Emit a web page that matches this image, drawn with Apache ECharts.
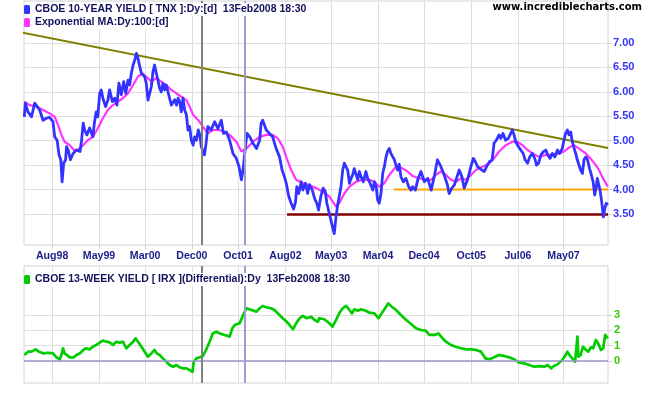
<!DOCTYPE html>
<html><head><meta charset="utf-8">
<script src="https://cdn.jsdelivr.net/npm/echarts@6/dist/echarts.min.js"></script>
<style>html,body{margin:0;padding:0;background:#fff}#c{width:651px;height:395px}</style>
</head><body><div id="c"></div>
<script>
const TNX_NAME = 'CBOE 10-YEAR YIELD [ TNX ]:Dy:[d]  13Feb2008 18:30';
const EMA_NAME = 'Exponential MA:Dy:100:[d]';
const IRX_NAME = 'CBOE 13-WEEK YIELD [ IRX ](Differential):Dy  13Feb2008 18:30';

const xRange = ['1998-02-16', '2008-02-14'];
const xTickDates = ['1998-08-11','1999-05-31','2000-03-14','2000-12-31','2001-10-16','2002-08-08','2003-05-21','2004-03-09','2004-12-21','2005-10-12','2006-07-31','2007-05-12'];
const tnxTicks = [3.5, 4.0, 4.5, 5.0, 5.5, 6.0, 6.5, 7.0];
const irxTicks = [0, 1, 2, 3];
const markerDates = ['2001-03-01', '2001-11-27'];

const tnx = [['1998-02-18',5.49],['1998-02-24',5.77],['1998-03-13',5.59],['1998-04-04',5.49],['1998-04-24',5.77],['1998-05-04',5.80],['1998-05-25',5.63],['1998-06-15',5.42],['1998-07-06',5.46],['1998-07-26',5.48],['1998-08-16',5.39],['1998-08-27',5.08],['1998-09-11',5.01],['1998-09-23',4.71],['1998-10-04',4.61],['1998-10-12',4.16],['1998-10-22',4.54],['1998-11-03',4.61],['1998-11-09',4.88],['1998-11-19',4.81],['1998-12-03',4.61],['1998-12-20',4.74],
['1999-01-10',4.81],['1999-02-01',4.78],['1999-02-11',5.01],['1999-02-21',5.36],['1999-03-02',5.22],['1999-03-16',5.12],['1999-04-02',5.26],['1999-04-22',5.08],['1999-05-03',5.39],['1999-05-13',5.59],['1999-05-23',5.49],['1999-06-04',5.97],['1999-06-14',6.04],['1999-06-24',5.87],['1999-07-11',5.70],['1999-07-25',5.83],['1999-08-05',6.04],['1999-08-22',5.80],['1999-09-06',5.87],['1999-09-20',5.73],['1999-10-02',6.18],['1999-10-17',5.94],['1999-11-01',6.21],['1999-11-14',5.97],['1999-11-28',6.24],['1999-12-08',6.14],['1999-12-19',6.38],['1999-12-30',6.55],
['2000-01-09',6.65],['2000-01-20',6.79],['2000-01-29',6.69],['2000-02-10',6.51],['2000-02-20',6.38],['2000-03-01',6.41],['2000-03-11',6.31],['2000-03-21',6.18],['2000-04-01',5.83],['2000-04-11',5.80],['2000-04-22',6.11],['2000-05-02',6.41],['2000-05-12',6.55],['2000-05-23',6.38],['2000-06-02',6.24],['2000-06-13',6.07],['2000-06-23',6.00],['2000-07-03',6.17],['2000-07-14',6.04],['2000-07-24',6.14],['2000-08-04',6.00],['2000-08-14',5.87],['2000-08-25',5.73],['2000-09-05',5.70],['2000-09-15',5.84],['2000-09-26',5.73],['2000-10-06',5.87],['2000-10-16',5.80],['2000-10-26',5.59],['2000-11-06',5.87],['2000-11-16',5.63],['2000-11-27',5.53],['2000-12-07',5.22],['2000-12-17',5.29],['2000-12-28',5.01],
['2001-01-08',4.91],['2001-01-18',5.08],['2001-01-29',5.01],['2001-02-09',5.22],['2001-02-19',5.12],['2001-02-28',4.88],['2001-03-10',4.88],['2001-03-20',4.71],['2001-03-30',4.95],['2001-04-10',5.29],['2001-05-01',5.22],['2001-05-22',5.39],['2001-06-12',5.25],['2001-07-03',5.42],['2001-07-17',5.15],['2001-08-04',5.18],['2001-08-24',5.01],['2001-09-14',4.74],['2001-10-05',4.64],['2001-10-22',4.47],['2001-11-06',4.20],['2001-11-16',4.40],['2001-12-01',4.88],['2001-12-11',5.15],['2001-12-28',5.08],
['2002-01-17',4.95],['2002-02-08',4.84],['2002-02-28',5.01],['2002-03-09',5.36],['2002-03-19',5.42],['2002-04-10',5.22],['2002-04-30',5.15],['2002-05-20',5.08],['2002-06-11',4.84],['2002-07-02',4.67],['2002-07-18',4.40],['2002-08-02',4.26],['2002-08-13',4.13],['2002-08-29',3.86],['2002-09-13',3.72],['2002-09-28',3.60],['2002-10-10',3.75],['2002-10-18',4.06],['2002-10-30',3.92],['2002-11-15',4.16],['2002-11-25',3.99],['2002-12-11',4.13],['2002-12-25',3.92],
['2003-01-05',4.10],['2003-01-22',4.00],['2003-02-06',3.82],['2003-02-20',3.72],['2003-03-03',3.58],['2003-03-17',3.86],['2003-04-01',4.03],['2003-04-14',3.96],['2003-04-24',3.72],['2003-05-09',3.51],['2003-05-19',3.38],['2003-05-29',3.24],['2003-06-09',3.10],['2003-06-20',3.44],['2003-06-30',3.68],['2003-07-10',3.86],['2003-07-21',4.06],['2003-08-01',4.40],['2003-08-11',4.54],['2003-08-21',4.57],['2003-09-01',4.40],['2003-09-12',4.13],['2003-09-22',4.23],['2003-10-02',4.30],['2003-10-12',4.43],['2003-10-23',4.40],['2003-11-03',4.20],['2003-11-13',4.37],['2003-11-24',4.26],['2003-12-08',4.16],['2003-12-24',4.37],
['2004-01-04',4.23],['2004-01-19',4.13],['2004-02-05',3.99],['2004-02-15',4.16],['2004-02-26',4.06],['2004-03-06',3.79],['2004-03-16',3.72],['2004-03-27',3.92],['2004-04-07',4.33],['2004-04-17',4.47],['2004-04-28',4.67],['2004-05-07',4.78],['2004-05-18',4.84],['2004-05-28',4.74],['2004-06-08',4.78],['2004-06-19',4.61],['2004-06-29',4.50],['2004-07-09',4.40],['2004-07-19',4.52],['2004-07-30',4.26],['2004-08-14',4.16],['2004-08-30',4.23],['2004-09-16',4.06],['2004-10-01',3.99],['2004-10-11',4.06],['2004-10-28',3.99],['2004-11-12',4.20],['2004-12-02',4.37],['2004-12-23',4.16],
['2005-01-13',4.23],['2005-02-04',3.99],['2005-02-25',4.30],['2005-03-15',4.61],['2005-04-06',4.47],['2005-04-26',4.30],['2005-05-17',4.09],['2005-05-27',3.92],['2005-06-13',4.03],['2005-06-28',4.09],['2005-07-12',4.23],['2005-07-29',4.40],['2005-08-15',4.26],['2005-08-29',4.03],['2005-09-19',4.20],['2005-10-10',4.47],['2005-10-25',4.64],['2005-11-07',4.57],['2005-11-21',4.47],['2005-12-01',4.43],['2005-12-18',4.40],
['2006-01-02',4.37],['2006-01-16',4.47],['2006-02-03',4.57],['2006-02-20',4.61],['2006-03-04',4.95],['2006-03-18',5.01],['2006-04-04',5.12],['2006-04-15',5.05],['2006-04-29',5.15],['2006-05-15',5.01],['2006-06-01',5.05],['2006-06-16',5.15],['2006-06-26',5.22],['2006-07-07',5.12],['2006-07-17',4.98],['2006-08-03',4.88],['2006-08-18',4.81],['2006-09-02',4.74],['2006-09-14',4.61],['2006-09-29',4.54],['2006-10-13',4.67],['2006-10-30',4.74],['2006-11-16',4.61],['2006-11-24',4.50],['2006-12-07',4.54],['2006-12-22',4.71],
['2007-01-05',4.77],['2007-01-22',4.81],['2007-02-02',4.71],['2007-02-17',4.64],['2007-03-03',4.74],['2007-03-19',4.67],['2007-04-04',4.81],['2007-04-18',4.74],['2007-05-04',4.84],['2007-05-15',5.01],['2007-05-25',5.15],['2007-06-05',5.22],['2007-06-15',5.12],['2007-06-26',5.18],['2007-07-06',4.98],['2007-07-16',4.86],['2007-07-27',4.74],['2007-08-06',4.61],['2007-08-17',4.57],['2007-08-27',4.40],['2007-09-07',4.33],['2007-09-17',4.61],['2007-09-28',4.67],['2007-10-08',4.62],['2007-10-14',4.54],['2007-10-22',4.43],['2007-11-02',4.30],['2007-11-13',4.16],['2007-11-23',3.89],['2007-12-03',4.06],['2007-12-09',4.23],['2007-12-20',4.20],['2007-12-26',3.99],
['2008-01-04',3.79],['2008-01-10',3.62],['2008-01-16',3.44],['2008-01-25',3.62],['2008-02-03',3.72],['2008-02-13',3.68]];

const ema = [['1998-02-18',5.80],['1998-03-23',5.73],['1998-05-04',5.70],['1998-06-15',5.63],['1998-07-26',5.56],['1998-08-27',5.49],['1998-09-17',5.32],['1998-10-08',5.12],['1998-10-28',4.98],['1998-11-29',4.91],['1998-12-24',4.81],['1999-01-20',4.82],['1999-02-21',4.91],['1999-03-22',5.01],['1999-04-22',5.08],['1999-05-23',5.25],['1999-06-24',5.46],['1999-07-25',5.63],['1999-08-26',5.73],['1999-09-26',5.80],['1999-10-27',5.87],['1999-11-28',5.97],['1999-12-30',6.14],['2000-01-29',6.31],['2000-02-26',6.38],['2000-03-21',6.31],['2000-04-22',6.21],['2000-05-23',6.28],['2000-06-23',6.21],['2000-07-24',6.14],['2000-08-25',6.04],['2000-09-26',5.97],['2000-10-26',5.90],['2000-11-27',5.83],['2000-12-17',5.70],['2001-01-08',5.53],['2001-02-09',5.42],['2001-03-10',5.29],['2001-04-10',5.15],['2001-05-11',5.22],['2001-06-22',5.22],['2001-08-24',5.12],['2001-10-05',4.98],['2001-11-06',4.78],['2001-12-07',4.84],['2002-01-17',4.98],['2002-02-28',5.08],['2002-04-10',5.12],['2002-05-20',5.12],['2002-06-21',5.05],['2002-07-22',4.88],['2002-08-16',4.64],['2002-09-13',4.40],['2002-10-14',4.20],['2002-11-25',4.13],['2003-01-05',4.09],['2003-02-17',4.03],['2003-03-27',3.96],['2003-05-09',3.86],['2003-06-20',3.65],['2003-07-10',3.72],['2003-08-11',3.92],['2003-09-12',4.06],['2003-10-23',4.16],['2003-12-04',4.20],['2004-01-15',4.20],['2004-02-15',4.16],['2004-03-16',4.06],['2004-04-17',4.13],['2004-05-18',4.30],['2004-06-29',4.47],['2004-07-30',4.45],['2004-09-01',4.39],['2004-10-11',4.28],['2004-11-23',4.23],['2005-01-04',4.20],['2005-02-04',4.20],['2005-03-05',4.30],['2005-04-06',4.37],['2005-05-07',4.30],['2005-06-08',4.20],['2005-07-08',4.16],['2005-08-09',4.23],['2005-09-10',4.20],['2005-10-10',4.30],['2005-11-11',4.40],['2005-12-22',4.47],['2006-02-03',4.54],['2006-03-04',4.64],['2006-04-04',4.78],['2006-05-16',4.91],['2006-06-26',4.98],['2006-07-27',4.98],['2006-08-28',4.91],['2006-09-29',4.81],['2006-10-30',4.74],['2006-12-11',4.67],['2007-01-22',4.71],['2007-03-03',4.71],['2007-04-14',4.74],['2007-05-15',4.78],['2007-06-16',4.86],['2007-07-16',4.91],['2007-08-17',4.84],['2007-09-28',4.74],['2007-10-29',4.63],['2007-11-30',4.50],['2007-12-20',4.40],['2008-01-10',4.25],['2008-02-13',4.06]];

const irxDiff = [['1998-02-18',0.39],['1998-03-13',0.61],['1998-04-04',0.61],['1998-04-30',0.76],['1998-05-20',0.61],['1998-06-15',0.50],['1998-07-16',0.54],['1998-08-16',0.50],['1998-09-07',0.24],['1998-09-28',0.11],['1998-10-08',0.39],['1998-10-18',0.83],['1998-10-28',0.50],['1998-11-09',0.39],['1998-11-29',0.24],['1998-12-10',0.33],['1998-12-24',0.24],['1999-01-10',0.39],['1999-02-01',0.50],['1999-02-21',0.72],['1999-03-12',0.83],['1999-04-02',0.76],['1999-04-22',0.93],['1999-05-13',1.04],['1999-06-04',1.20],['1999-06-24',1.33],['1999-07-15',1.26],['1999-08-05',1.22],['1999-08-26',1.04],['1999-09-16',1.26],['1999-10-07',1.20],['1999-10-27',1.26],['1999-11-18',0.83],['1999-12-08',1.04],['1999-12-30',1.26],['2000-01-15',1.48],['2000-01-29',1.26],['2000-02-20',0.93],['2000-03-11',0.61],['2000-04-01',0.28],['2000-04-22',0.50],['2000-05-12',0.72],['2000-05-26',0.50],['2000-06-13',0.39],['2000-07-03',0.17],['2000-07-24',-0.04],['2000-08-14',-0.26],['2000-09-05',-0.37],['2000-09-26',-0.26],['2000-10-16',-0.41],['2000-11-06',-0.48],['2000-11-27',-0.48],['2000-12-17',-0.59],['2001-01-04',-0.70],['2001-01-12',-0.04],['2001-01-29',0.17],['2001-02-19',0.24],['2001-03-10',0.33],['2001-03-30',0.72],['2001-04-21',1.26],['2001-05-11',1.80],['2001-06-02',1.91],['2001-06-22',1.80],['2001-07-23',1.70],['2001-08-24',1.59],['2001-09-10',2.13],['2001-09-25',2.35],['2001-10-26',2.46],['2001-11-12',2.89],['2001-12-07',3.44],['2002-01-07',3.33],['2002-02-08',3.22],['2002-02-28',3.44],['2002-03-19',3.59],['2002-04-10',3.50],['2002-05-10',3.44],['2002-06-01',3.33],['2002-06-21',3.11],['2002-07-22',2.79],['2002-08-16',2.56],['2002-09-03',2.35],['2002-09-24',2.07],['2002-10-14',2.46],['2002-11-05',2.79],['2002-11-25',2.94],['2002-12-16',2.79],['2003-01-16',2.89],['2003-02-06',2.67],['2003-02-27',2.56],['2003-03-07',2.79],['2003-04-08',2.72],['2003-05-09',2.46],['2003-05-29',2.24],['2003-06-20',2.67],['2003-07-10',3.11],['2003-08-01',3.44],['2003-08-21',3.59],['2003-09-12',3.33],['2003-09-28',3.11],['2003-10-12',3.37],['2003-11-03',3.28],['2003-11-24',3.37],['2003-12-24',3.28],['2004-01-15',3.15],['2004-02-15',3.11],['2004-03-12',2.79],['2004-04-07',3.22],['2004-04-28',3.54],['2004-05-12',3.76],['2004-05-28',3.59],['2004-06-29',3.33],['2004-07-30',3.00],['2004-09-01',2.67],['2004-10-01',2.41],['2004-11-02',2.13],['2004-12-02',2.02],['2004-12-31',1.98],['2005-01-24',1.70],['2005-02-25',1.70],['2005-03-21',1.80],['2005-04-16',1.48],['2005-05-07',1.26],['2005-06-08',1.04],['2005-07-08',0.93],['2005-08-09',0.83],['2005-09-10',0.76],['2005-10-10',0.76],['2005-11-11',0.72],['2005-12-12',0.61],['2006-01-09',0.17],['2006-02-03',0.11],['2006-03-04',0.24],['2006-04-04',0.39],['2006-05-05',0.33],['2006-06-06',0.24],['2006-07-07',0.11],['2006-08-08',-0.11],['2006-09-08',-0.15],['2006-10-09',-0.26],['2006-11-10',-0.37],['2006-12-11',-0.33],['2007-01-12',-0.37],['2007-02-02',-0.26],['2007-02-23',-0.48],['2007-03-13',-0.33],['2007-04-04',-0.22],['2007-05-04',0.07],['2007-05-25',0.39],['2007-06-05',0.61],['2007-06-26',0.28],['2007-07-23',-0.04],['2007-08-07',1.59],['2007-08-13',0.28],['2007-08-27',0.39],['2007-09-11',0.93],['2007-09-28',0.72],['2007-10-14',0.61],['2007-10-29',0.89],['2007-11-13',0.83],['2007-11-30',1.37],['2007-12-14',1.15],['2008-01-01',0.72],['2008-01-15',0.83],['2008-01-27',1.70],['2008-02-13',1.48]];

const downTrend = [['1997-11-08',7.27],['2008-02-14',4.85]];
const supportOrange = [['2004-06-15',4.00],['2008-02-14',4.00]];
const supportRed = [['2002-08-18',3.49],['2008-02-14',3.49]];

const P = s => { const a = s.split('-').map(Number); return new Date(a[0], a[1]-1, a[2]).getTime(); };
const MON = ['Jan','Feb','Mar','Apr','May','Jun','Jul','Aug','Sep','Oct','Nov','Dec'];
const fmtMonth = v => { const d = new Date(v); return MON[d.getMonth()] + String(d.getFullYear()).slice(2); };
const ticksTs = xTickDates.map(P);
const conv = arr => arr.map(p => [P(p[0]), p[1]]);

const gridColor = '#dedede';
const baseFont = 'Liberation Sans, Arial, sans-serif';

function xAxisFor(gi, showLabels) {
  return {
    type: 'value', gridIndex: gi, min: P(xRange[0]), max: P(xRange[1]), scale: true,
    axisLine: { show: false },
    axisTick: { show: true, length: 4, customValues: ticksTs, lineStyle: { color: '#d0d0d0' } },
    axisLabel: { show: showLabels, customValues: ticksTs, formatter: fmtMonth, color: '#1c1c86',
      fontWeight: 'bold', fontSize: 10.6, fontFamily: baseFont, margin: 6, showMinLabel: true, showMaxLabel: true },
    splitLine: { show: true, lineStyle: { color: gridColor, width: 1 } }
  };
}

const legendText = { fontFamily: baseFont, fontWeight: 'bold', fontSize: 10.5, color: '#12125e',
  backgroundColor: '#ffffff', padding: [1, 2, 1, 0] };

const chart = echarts.init(document.getElementById('c'), null, { renderer: 'canvas' });
chart.setOption({
  animation: false,
  backgroundColor: '#ffffff',
  legend: [
    { data: [TNX_NAME, EMA_NAME], orient: 'vertical', left: 19, top: -2, itemWidth: 6, itemHeight: 9, itemGap: 0,
      icon: 'roundRect', selectedMode: false, z: 20, textStyle: legendText },
    { data: [IRX_NAME], orient: 'vertical', left: 19, top: 268, itemWidth: 6, itemHeight: 9,
      icon: 'roundRect', selectedMode: false, z: 20, textStyle: legendText }
  ],
  graphic: [
    { type: 'text', right: 9, top: 2, z: 20, style: { text: 'www.incrediblecharts.com', font: 'bold 10px DejaVu Sans', fill: '#000' } }
  ],
  grid: [
    { left: 24, right: 43, top: 1, height: 244, show: true, borderColor: '#d2d2d2', borderWidth: 1 },
    { left: 24, right: 43, top: 266, height: 117, show: true, borderColor: '#d2d2d2', borderWidth: 1 }
  ],
  xAxis: [xAxisFor(0, true), xAxisFor(1, false)],
  yAxis: [
    { type: 'value', gridIndex: 0, position: 'right', min: 2.866, max: 7.86, scale: true,
      axisLine: { show: false },
      axisTick: { show: true, length: 4, customValues: tnxTicks, lineStyle: { color: '#d0d0d0' } },
      axisLabel: { customValues: tnxTicks, formatter: v => Number(v).toFixed(2), color: '#3535f5', fontWeight: 'bold',
        fontSize: 11, fontFamily: baseFont, margin: 5 },
      splitLine: { show: true, lineStyle: { color: gridColor, width: 1 } } },
    { type: 'value', gridIndex: 1, position: 'right', min: -1.435, max: 6.197, scale: true,
      axisLine: { show: false },
      axisTick: { show: true, length: 4, customValues: irxTicks, lineStyle: { color: '#d0d0d0' } },
      axisLabel: { customValues: irxTicks, formatter: v => String(v), color: '#33cc00', fontWeight: 'bold',
        fontSize: 11, fontFamily: baseFont, margin: 6, textShadowColor: '#ffff00', textShadowBlur: 0, textShadowOffsetX: -1 },
      splitLine: { show: true, lineStyle: { color: gridColor, width: 1 } } }
  ],
  series: [
    { name: 'downtrend', type: 'line', xAxisIndex: 0, yAxisIndex: 0, data: conv(downTrend), showSymbol: false,
      clip: false, lineStyle: { color: '#808000', width: 2 }, silent: true },
    { name: 'support1', type: 'line', xAxisIndex: 0, yAxisIndex: 0, data: conv(supportOrange), showSymbol: false,
      lineStyle: { color: '#ffa500', width: 2 }, silent: true },
    { name: 'support2', type: 'line', xAxisIndex: 0, yAxisIndex: 0, data: conv(supportRed), showSymbol: false,
      lineStyle: { color: '#800000', width: 2.5 }, silent: true },
    { name: EMA_NAME, type: 'line', xAxisIndex: 0, yAxisIndex: 0, data: conv(ema), showSymbol: false,
      itemStyle: { color: '#ff33ff' }, lineStyle: { color: '#ff33ff', width: 2.2 } },
    { name: TNX_NAME, type: 'line', xAxisIndex: 0, yAxisIndex: 0, data: conv(tnx), showSymbol: false,
      itemStyle: { color: '#3333ff' }, lineStyle: { color: '#3333ff', width: 2.8, join: 'round' },
      markLine: { silent: true, symbol: 'none', label: { show: false }, animation: false,
        data: [
          { xAxis: P(markerDates[0]), lineStyle: { color: '#808080', width: 2, type: 'solid' } },
          { xAxis: P(markerDates[1]), lineStyle: { color: '#9c9cd0', width: 2, type: 'solid' } }
        ] } },
    { name: IRX_NAME, type: 'line', xAxisIndex: 1, yAxisIndex: 1, data: conv(irxDiff), showSymbol: false,
      itemStyle: { color: '#00cc00' }, lineStyle: { color: '#00cc00', width: 2.7, join: 'round' },
      markLine: { silent: true, symbol: 'none', label: { show: false }, animation: false,
        data: [
          { yAxis: 0, lineStyle: { color: '#9999cc', width: 1.5, type: 'solid' } },
          { xAxis: P(markerDates[0]), lineStyle: { color: '#808080', width: 2, type: 'solid' } },
          { xAxis: P(markerDates[1]), lineStyle: { color: '#9c9cd0', width: 2, type: 'solid' } }
        ] } }
  ]
});
</script>
</body></html>
